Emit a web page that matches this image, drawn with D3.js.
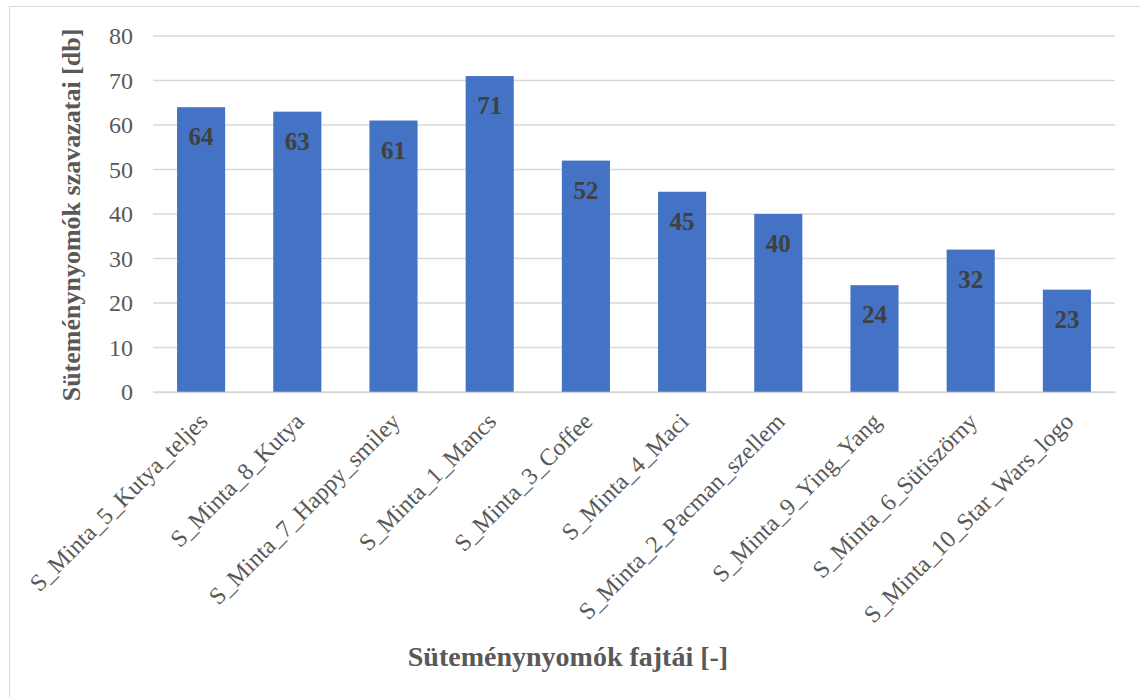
<!DOCTYPE html>
<html>
<head>
<meta charset="utf-8">
<script src="https://cdn.jsdelivr.net/npm/d3@7"></script>
<style>
  html, body { margin: 0; padding: 0; background: #fff; }
  svg { display: block; font-family: "Liberation Serif", "Times New Roman", serif; }
</style>
</head>
<body>
<svg id="chart" width="1140" height="697"></svg>
<script>
// Cookie-stamp designs and the number of votes each received
const categories = [
  "S_Minta_5_Kutya_teljes",
  "S_Minta_8_Kutya",
  "S_Minta_7_Happy_smiley",
  "S_Minta_1_Mancs",
  "S_Minta_3_Coffee",
  "S_Minta_4_Maci",
  "S_Minta_2_Pacman_szellem",
  "S_Minta_9_Ying_Yang",
  "S_Minta_6_Sütiszörny",
  "S_Minta_10_Star_Wars_logo"
];
const votes = [64, 63, 61, 71, 52, 45, 40, 24, 32, 23];
const yTicks = [0, 10, 20, 30, 40, 50, 60, 70, 80];
const yTitle = "Süteménynyomók szavazatai [db]";
const xTitle = "Süteménynyomók fajtái [-]";

const svg = d3.select("#chart");
const W = 1140, H = 697;
const margin = { top: 36, right: 25, bottom: 305, left: 153 };
const innerW = W - margin.left - margin.right;
const innerH = H - margin.top - margin.bottom;

// Outer chart frame
svg.append("rect")
  .attr("x", 9.5).attr("y", 6.5)
  .attr("width", W + 10).attr("height", H + 10)
  .attr("fill", "#fff").attr("stroke", "#d9d9d9").attr("stroke-width", 1);

const g = svg.append("g").attr("transform", `translate(${margin.left},${margin.top})`);

const x = d3.scaleBand().domain(categories).range([0, innerW]).paddingInner(0.5).paddingOuter(0.25);
const y = d3.scaleLinear().domain([0, 80]).range([innerH, 0]);

// Horizontal gridlines
g.append("g")
  .selectAll("line")
  .data(yTicks)
  .join("line")
  .attr("x1", 0).attr("x2", innerW)
  .attr("y1", d => y(d)).attr("y2", d => y(d))
  .attr("stroke", "#d9d9d9").attr("stroke-width", 1.5);

// Y axis labels
const yAxis = d3.axisLeft(y).tickValues(yTicks).tickSize(0).tickPadding(20);
g.append("g").call(yAxis)
  .call(s => s.select(".domain").remove())
  .selectAll("text")
  .attr("font-size", 24).attr("fill", "#595959")
  .attr("font-family", "Liberation Serif, serif");

// Bars
g.append("g")
  .selectAll("rect")
  .data(votes)
  .join("rect")
  .attr("x", (d, i) => x(categories[i]))
  .attr("y", d => y(d))
  .attr("width", x.bandwidth())
  .attr("height", d => innerH - y(d))
  .attr("fill", "#4472c4");

// Value labels inside bar tops
g.append("g")
  .selectAll("text")
  .data(votes)
  .join("text")
  .attr("x", (d, i) => x(categories[i]) + x.bandwidth() / 2)
  .attr("y", d => y(d) + 38)
  .attr("text-anchor", "middle")
  .attr("font-size", 25).attr("font-weight", "bold")
  .attr("fill", "#404040")
  .text(d => d);

// X axis (baseline) with rotated category labels
const xAxis = d3.axisBottom(x).tickSize(0).tickPadding(0);
const xg = g.append("g").attr("transform", `translate(0,${innerH})`).call(xAxis);
xg.select(".domain").attr("stroke", "#d9d9d9").attr("stroke-width", 1.5);
xg.selectAll("text")
  .attr("font-size", 24).attr("fill", "#595959")
  .attr("font-family", "Liberation Serif, serif")
  .attr("text-anchor", "end")
  .attr("dy", null)
  .attr("transform", "translate(8,31) rotate(-45)");

// Axis titles
svg.append("text")
  .attr("transform", `translate(80,${margin.top + innerH / 2 + 1}) rotate(-90)`)
  .attr("text-anchor", "middle")
  .attr("font-size", 26).attr("font-weight", "bold").attr("fill", "#595959")
  .text(yTitle);

svg.append("text")
  .attr("x", 568).attr("y", 666)
  .attr("text-anchor", "middle")
  .attr("font-size", 28).attr("font-weight", "bold").attr("fill", "#595959")
  .text(xTitle);
</script>
</body>
</html>
